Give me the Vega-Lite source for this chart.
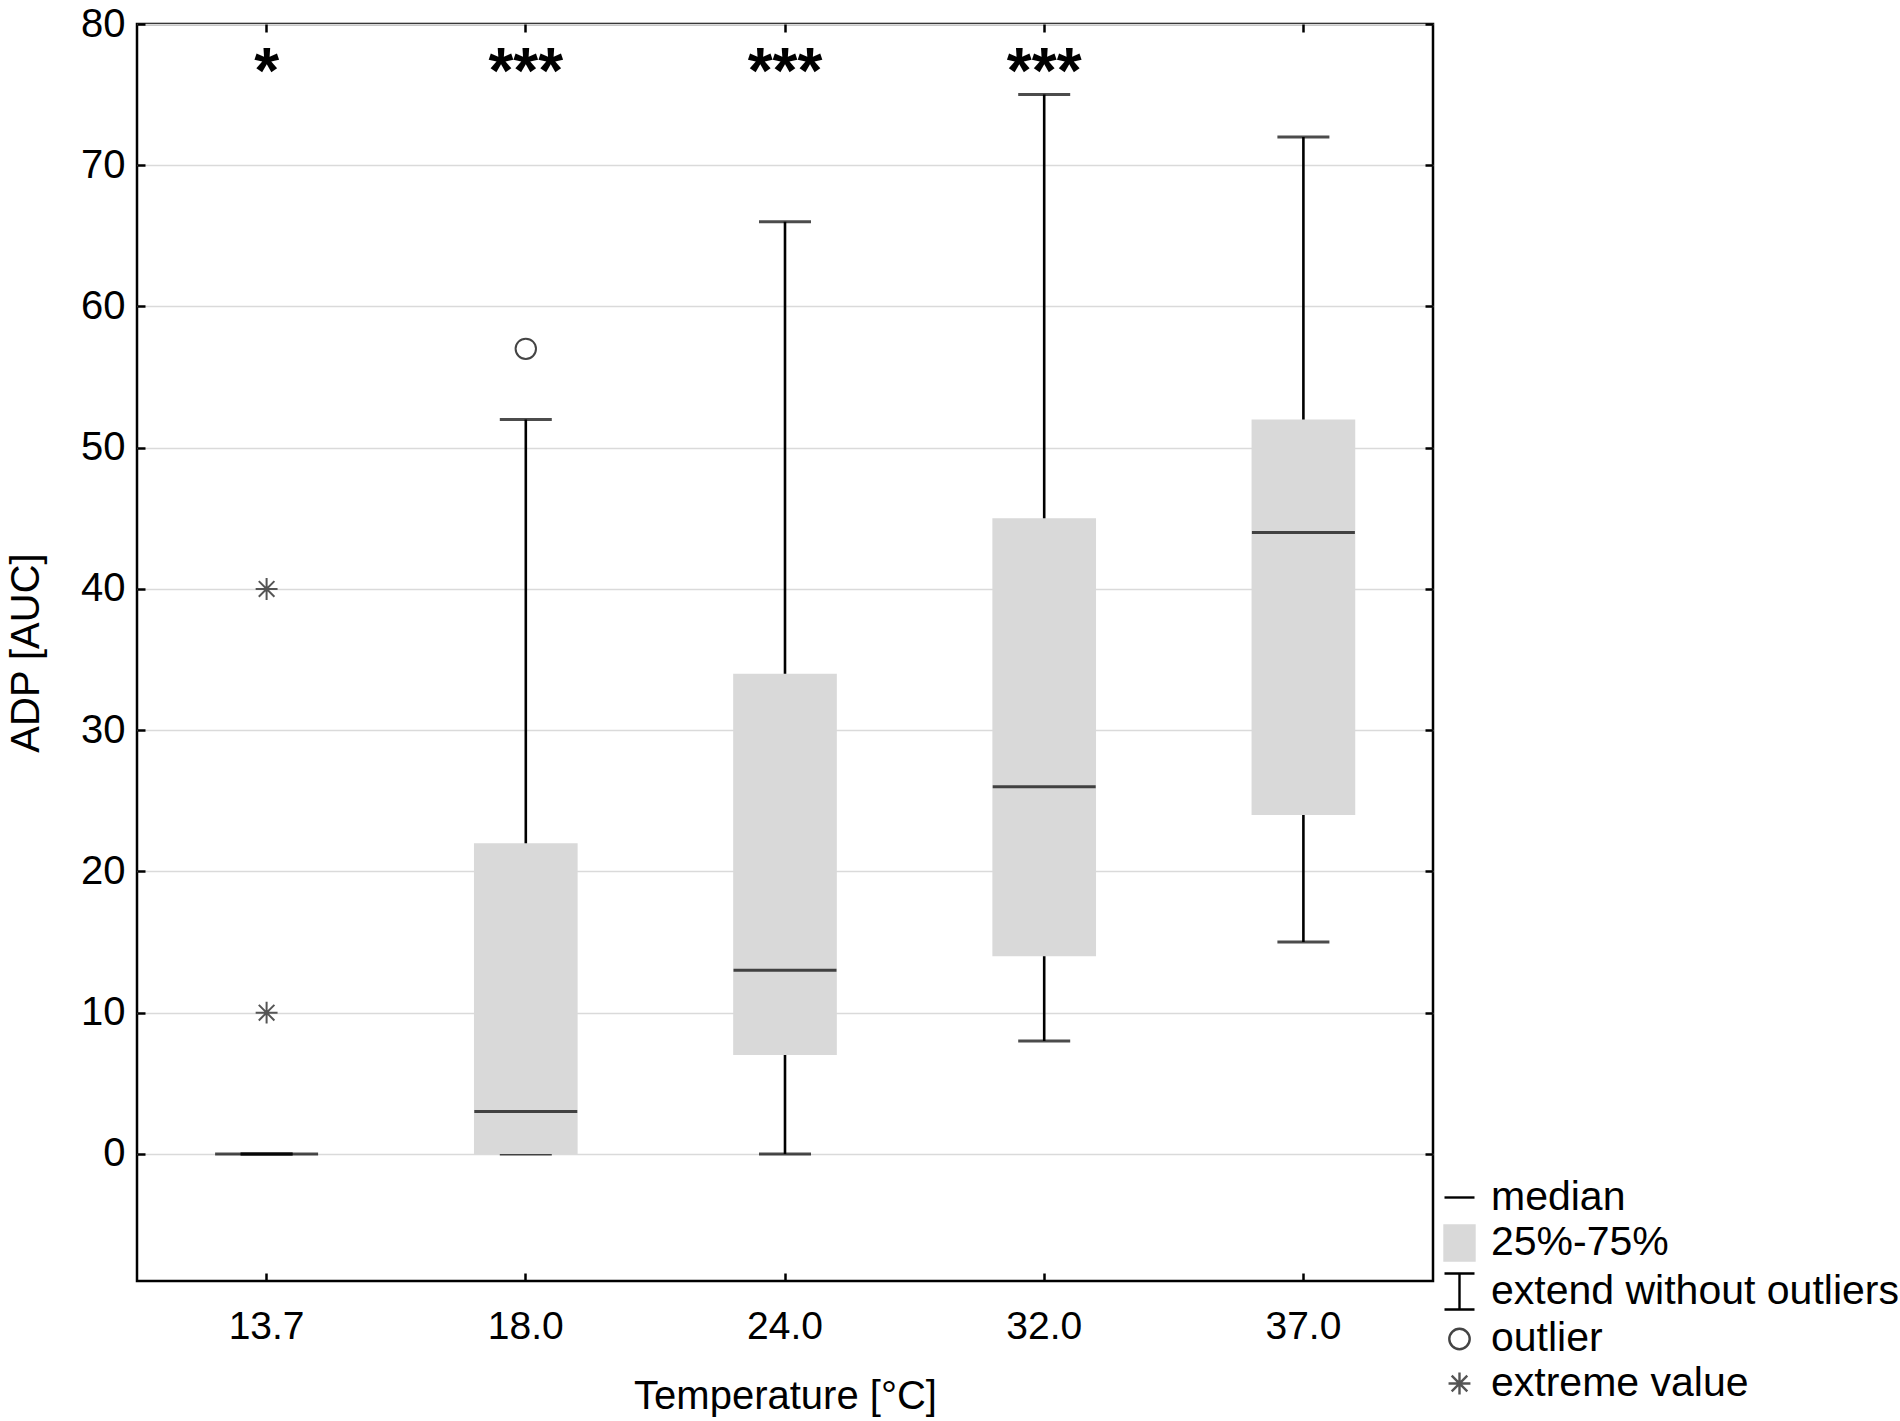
{
  "$schema": "https://vega.github.io/schema/vega-lite/v6.json",
  "width": 1296,
  "height": 1257,
  "autosize": {"type": "none"},
  "padding": {"left": 137, "top": 24, "right": 467, "bottom": 140},
  "background": "white",
  "config": {
    "font": "Liberation Sans",
    "view": {"stroke": "black", "strokeWidth": 2.5}
  },
  "datasets": {
    "stats": [
      {"temp": "13.7", "lo": 0, "q1": 0, "med": 0, "q3": 0, "hi": 0, "sig": "*"},
      {"temp": "18.0", "lo": 0, "q1": 0, "med": 3, "q3": 22, "hi": 52, "sig": "***"},
      {"temp": "24.0", "lo": 0, "q1": 7, "med": 13, "q3": 34, "hi": 66, "sig": "***"},
      {"temp": "32.0", "lo": 8, "q1": 14, "med": 26, "q3": 45, "hi": 75, "sig": "***"},
      {"temp": "37.0", "lo": 15, "q1": 24, "med": 44, "q3": 52, "hi": 72, "sig": ""}
    ],
    "points": [
      {"temp": "13.7", "value": 40, "kind": "extreme value"},
      {"temp": "13.7", "value": 10, "kind": "extreme value"},
      {"temp": "18.0", "value": 57, "kind": "outlier"}
    ]
  },
  "data": {"name": "stats"},
  "encoding": {
    "x": {
      "field": "temp",
      "type": "ordinal",
      "scale": {"paddingInner": 0, "paddingOuter": 0},
      "axis": null
    },
    "y": {
      "type": "quantitative",
      "scale": {"domain": [-9, 80], "nice": false, "zero": false},
      "axis": null
    }
  },
  "layer": [
    {
      "mark": {"type": "rule", "color": "black", "strokeWidth": 2.6},
      "encoding": {
        "x": {
          "field": "temp",
          "type": "ordinal",
          "scale": {"paddingInner": 0, "paddingOuter": 0},
          "axis": {
            "orient": "bottom",
            "title": "Temperature [°C]",
            "titleFontSize": 40,
            "titleFontWeight": "normal",
            "titleColor": "black",
            "titlePadding": 30,
            "labelFontSize": 39,
            "labelColor": "black",
            "labelAngle": 0,
            "labelPadding": 34,
            "tickSize": -8,
            "tickWidth": 2.5,
            "tickColor": "black",
            "domain": false,
            "grid": false
          }
        },
        "y": {
          "field": "lo",
          "type": "quantitative",
          "scale": {"domain": [-9, 80], "nice": false, "zero": false},
          "axis": {
            "orient": "left",
            "title": "ADP [AUC]",
            "titleFontSize": 40,
            "titleFontWeight": "normal",
            "titleColor": "black",
            "titlePadding": 34,
            "values": [0, 10, 20, 30, 40, 50, 60, 70, 80],
            "labelFontSize": 40,
            "labelColor": "black",
            "labelPadding": 20,
            "tickSize": -8,
            "tickWidth": 2.5,
            "tickColor": "black",
            "domain": false,
            "grid": true,
            "gridColor": "#dadada",
            "gridWidth": 1.5
          }
        },
        "y2": {"field": "hi"}
      }
    },
    {
      "mark": {"type": "tick", "color": "black", "size": 52, "thickness": 3},
      "encoding": {
        "x": {
          "field": "temp",
          "type": "ordinal",
          "scale": {"paddingInner": 0, "paddingOuter": 0},
          "axis": {
            "orient": "top",
            "labels": false,
            "title": null,
            "tickSize": -8,
            "tickWidth": 2.5,
            "tickColor": "black",
            "domain": false,
            "grid": false
          }
        },
        "y": {
          "field": "hi",
          "type": "quantitative",
          "scale": {"domain": [-9, 80], "nice": false, "zero": false},
          "axis": {
            "orient": "right",
            "labels": false,
            "title": null,
            "values": [0, 10, 20, 30, 40, 50, 60, 70, 80],
            "tickSize": -8,
            "tickWidth": 2.5,
            "tickColor": "black",
            "domain": false,
            "grid": false
          }
        }
      }
    },
    {
      "mark": {"type": "tick", "color": "black", "size": 52, "thickness": 3},
      "encoding": {
        "y": {"field": "lo", "type": "quantitative"}
      }
    },
    {
      "mark": {"type": "bar", "color": "#d9d9d9", "width": {"band": 0.4}},
      "encoding": {
        "y": {"field": "q1", "type": "quantitative"},
        "y2": {"field": "q3"}
      }
    },
    {
      "mark": {"type": "tick", "color": "black", "size": 103, "thickness": 3},
      "encoding": {
        "y": {"field": "med", "type": "quantitative"}
      }
    },
    {
      "mark": {
        "type": "text",
        "fontSize": 64,
        "fontWeight": "bold",
        "color": "black",
        "baseline": "alphabetic",
        "align": "center"
      },
      "encoding": {
        "y": {"datum": 75.1, "type": "quantitative"},
        "text": {"field": "sig"}
      }
    },
    {
      "data": {"name": "points"},
      "mark": {"type": "point", "size": 900, "strokeWidth": 2, "opacity": 1},
      "encoding": {
        "y": {"field": "value", "type": "quantitative"},
        "shape": {
          "field": "kind",
          "type": "nominal",
          "scale": {
            "domain": ["median", "25%-75%", "extend without outliers", "outlier", "extreme value"],
            "range": [
              "M-1,0H1",
              "M-1,-1.17H1V1.17H-1Z",
              "M-1,-1.2H1M0,-1.2V1.2M-1,1.2H1",
              "M-0.68,0A0.68,0.68 0 1,1 0.68,0A0.68,0.68 0 1,1 -0.68,0Z",
              "M-0.73,0H0.73M0,-0.73V0.73M-0.52,-0.52L0.52,0.52M-0.52,0.52L0.52,-0.52"
            ]
          },
          "legend": {
            "title": null,
            "orient": "none",
            "legendX": 1302,
            "legendY": 1153,
            "padding": 0,
            "symbolSize": 900,
            "symbolStrokeWidth": 2.4,
            "symbolOpacity": 1,
            "labelFontSize": 41,
            "labelColor": "black",
            "labelOffset": 11,
            "labelLimit": 700,
            "rowPadding": 2.5
          }
        },
        "fill": {
          "field": "kind",
          "type": "nominal",
          "scale": {
            "domain": ["median", "25%-75%", "extend without outliers", "outlier", "extreme value"],
            "range": ["transparent", "#d9d9d9", "transparent", "transparent", "transparent"]
          },
          "legend": {"title": null}
        },
        "stroke": {
          "field": "kind",
          "type": "nominal",
          "scale": {
            "domain": ["median", "25%-75%", "extend without outliers", "outlier", "extreme value"],
            "range": ["black", "#d9d9d9", "black", "#444444", "#555555"]
          },
          "legend": {"title": null}
        }
      }
    }
  ],
  "resolve": {"axis": {"x": "independent", "y": "independent"}}
}
